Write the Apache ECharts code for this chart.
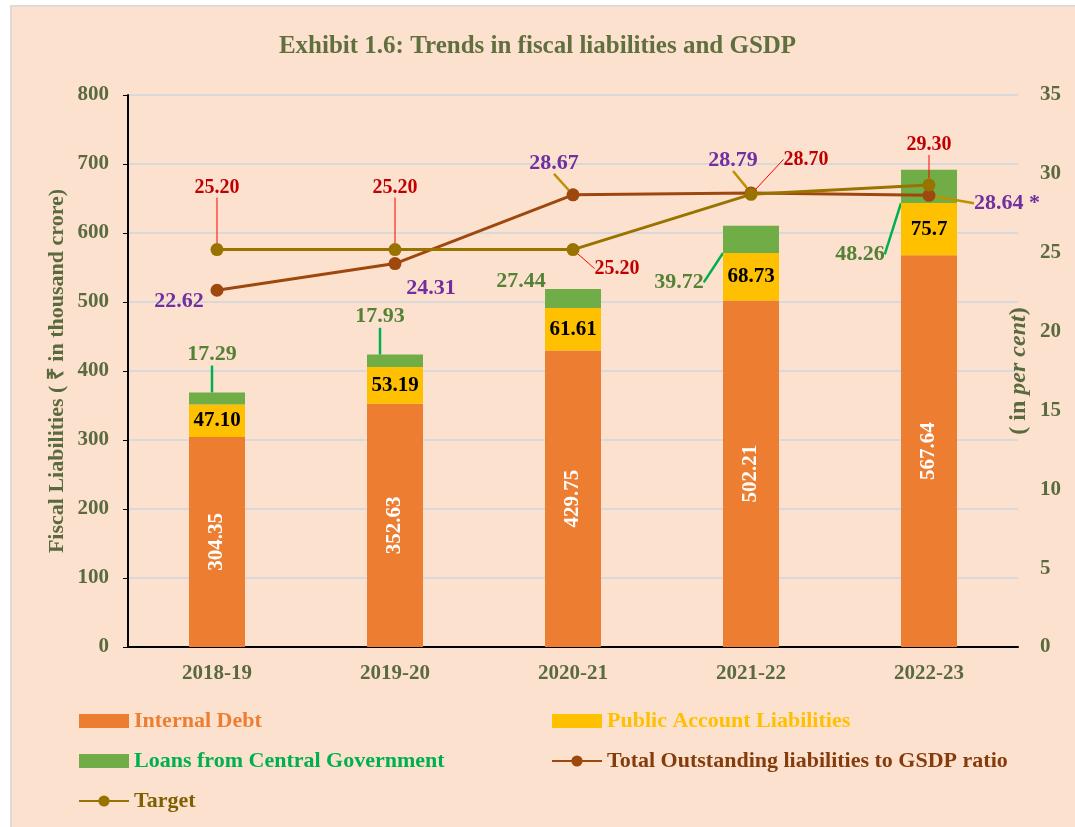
<!DOCTYPE html>
<html>
<head>
<meta charset="utf-8">
<title>Exhibit 1.6</title>
<script src="https://cdn.jsdelivr.net/npm/echarts@6/dist/echarts.min.js"></script>
<style>
    html, body { margin: 0; padding: 0; background: #fff; }
    #frame {
        position: absolute; left: 10px; top: 5px; width: 1063px; height: 820px;
        background: #FDE1CF; border-left: 2px solid #DEDAD6; border-top: 2px solid #DEDAD6;
    }
    #main { position: absolute; left: 0; top: 0; width: 1075px; height: 827px; }
</style>
</head>
<body>
<div id="frame"></div>
<div id="main"></div>
<script>
    const years = ['2018-19', '2019-20', '2020-21', '2021-22', '2022-23']
    const internalDebt = [304.35, 352.63, 429.75, 502.21, 567.64]
    const publicAccount = [47.10, 53.19, 61.61, 68.73, 75.70]
    const publicAccountText = ['47.10', '53.19', '61.61', '68.73', '75.7']
    const centralLoans = [17.29, 17.93, 27.44, 39.72, 48.26]
    const gsdpRatio = [22.62, 24.31, 28.67, 28.79, 28.64]
    const ratioSuffix = ['', '', '', '', ' *']
    const target = [25.20, 25.20, 25.20, 28.70, 29.30]
    const leftTicks = [0, 800, 100]
    const rightTicks = [0, 35, 5]

    // label nudges (px) so they sit where the exhibit puts them
    const loanDx = [-5, -15, -52, -72, -69]
    const loanDy = [-44, -44, -17, 43, 68]
    const loanLeader = [true, true, false, true, true]
    const ratioDx = [-38, 36, -19, -18, 78]
    const ratioDy = [11, 25, -32, -33, 8]
    const ratioLeader = [false, false, true, true, true]
    const targetDx = [0, 0, 44, 55, 0]
    const targetDy = [-62, -62, 19, -35, -40]

    const serif = 'Liberation Serif'
    const olive = '#5A6A3F'

    let chart = echarts.init(document.getElementById('main'))
    chart.setOption({
        backgroundColor: 'transparent',
        textStyle: { fontFamily: serif },
        title: {
            text: 'Exhibit 1.6: Trends in fiscal liabilities and GSDP',
            left: 'center', top: 29,
            textStyle: { fontFamily: serif, fontSize: 25, fontWeight: 'bold', color: '#5F6F3E' }
        },
        grid: { left: 128, right: 57, top: 95, bottom: 180, outerBoundsMode: 'none' },
        legend: [
            {
                orient: 'vertical', left: 78, top: 710, padding: 0, itemWidth: 50, itemHeight: 14, itemGap: 18,
                textStyle: { fontFamily: serif, fontSize: 22, fontWeight: 'bold' },
                data: [
                    { name: 'Internal Debt', icon: 'rect', textStyle: { color: '#ED7D31' } },
                    { name: 'Loans from Central Government', icon: 'rect', textStyle: { color: '#00B050' } },
                    { name: 'Target', textStyle: { color: '#7F6000' } }
                ]
            },
            {
                orient: 'vertical', left: 551, top: 710, padding: 0, itemWidth: 50, itemHeight: 14, itemGap: 18,
                textStyle: { fontFamily: serif, fontSize: 22, fontWeight: 'bold' },
                data: [
                    { name: 'Public Account Liabilities', icon: 'rect', textStyle: { color: '#FFC000' } },
                    { name: 'Total Outstanding liabilities to GSDP ratio', textStyle: { color: '#843C0C' } }
                ]
            }
        ],
        xAxis: {
            type: 'category',
            data: years,
            axisLine: { lineStyle: { color: '#000', width: 2 } },
            axisTick: { show: false },
            axisLabel: { margin: 16, fontFamily: serif, fontSize: 21, fontWeight: 'bold', color: olive }
        },
        yAxis: [
            {
                type: 'value', min: leftTicks[0], max: leftTicks[1], interval: leftTicks[2],
                name: 'Fiscal Liabilities ( ₹ in thousand crore)',
                nameLocation: 'middle', nameGap: 60, nameMoveOverlap: false,
                nameTextStyle: { fontFamily: serif, fontSize: 22, fontWeight: 'bold', color: olive },
                axisLine: { show: true, lineStyle: { color: '#000', width: 2 } },
                axisTick: { show: true, length: 5, lineStyle: { color: '#000' } },
                axisLabel: { margin: 19, fontFamily: serif, fontSize: 21, fontWeight: 'bold', color: olive },
                splitLine: { lineStyle: { color: '#D9D9D9', width: 2 } }
            },
            {
                type: 'value', min: rightTicks[0], max: rightTicks[1], interval: rightTicks[2],
                name: '( in {i|per cent})',
                nameLocation: 'middle', nameGap: -11, nameRotate: 90, nameMoveOverlap: false,
                nameTextStyle: {
                    fontFamily: serif, fontSize: 24, fontWeight: 'bold', color: olive,
                    rich: { i: { fontFamily: serif, fontSize: 24, fontWeight: 'bold', fontStyle: 'italic', color: olive } }
                },
                axisLine: { show: false },
                axisTick: { show: false },
                axisLabel: { margin: 22, fontFamily: serif, fontSize: 21, fontWeight: 'bold', color: olive },
                splitLine: { show: false }
            }
        ],
        series: [
            {
                name: 'Internal Debt', type: 'bar', stack: 'debt', barWidth: 56,
                itemStyle: { color: '#ED7D31' },
                label: {
                    show: true, position: 'inside', rotate: 90,
                    fontFamily: serif, fontSize: 21, fontWeight: 'bold', color: '#fff',
                    formatter: p => p.value.toFixed(2)
                },
                data: internalDebt
            },
            {
                name: 'Public Account Liabilities', type: 'bar', stack: 'debt',
                itemStyle: { color: '#FFC000' },
                label: {
                    show: true, position: 'inside',
                    fontFamily: serif, fontSize: 21, fontWeight: 'bold', color: '#000',
                    formatter: p => publicAccountText[p.dataIndex]
                },
                data: publicAccount
            },
            {
                name: 'Loans from Central Government', type: 'bar', stack: 'debt',
                itemStyle: { color: '#70AD47' },
                label: {
                    show: true, position: 'inside',
                    fontFamily: serif, fontSize: 22, fontWeight: 'bold', color: '#548235',
                    formatter: p => p.value.toFixed(2)
                },
                labelLine: { show: true, lineStyle: { color: '#00B050', width: 2.5 } },
                labelLayout: p => ({ dx: loanDx[p.dataIndex], dy: loanDy[p.dataIndex] }),
                data: centralLoans.map((v, i) => ({ value: v, labelLine: { show: loanLeader[i] } }))
            },
            {
                name: 'Total Outstanding liabilities to GSDP ratio', type: 'line', yAxisIndex: 1,
                symbol: 'circle', symbolSize: 13, z: 5,
                itemStyle: { color: '#9E480E' },
                lineStyle: { color: '#9E480E', width: 3 },
                label: {
                    show: true, position: 'inside',
                    fontFamily: serif, fontSize: 22, fontWeight: 'bold', color: '#7030A0',
                    formatter: p => p.value.toFixed(2) + ratioSuffix[p.dataIndex]
                },
                labelLine: { show: true, lineStyle: { color: '#BF9000', width: 2.5 } },
                labelLayout: p => ({ dx: ratioDx[p.dataIndex], dy: ratioDy[p.dataIndex] }),
                data: gsdpRatio.map((v, i) => ({ value: v, labelLine: { show: ratioLeader[i] } }))
            },
            {
                name: 'Target', type: 'line', yAxisIndex: 1,
                symbol: 'circle', symbolSize: 13, z: 6,
                itemStyle: { color: '#997300' },
                lineStyle: { color: '#997300', width: 3 },
                label: {
                    show: true, position: 'inside',
                    fontFamily: serif, fontSize: 20, fontWeight: 'bold', color: '#C00000',
                    formatter: p => p.value.toFixed(2)
                },
                labelLine: { show: true, lineStyle: { color: '#FF0000', width: 1 } },
                labelLayout: p => ({ dx: targetDx[p.dataIndex], dy: targetDy[p.dataIndex] }),
                data: target
            }
        ]
    })
</script>
</body>
</html>
